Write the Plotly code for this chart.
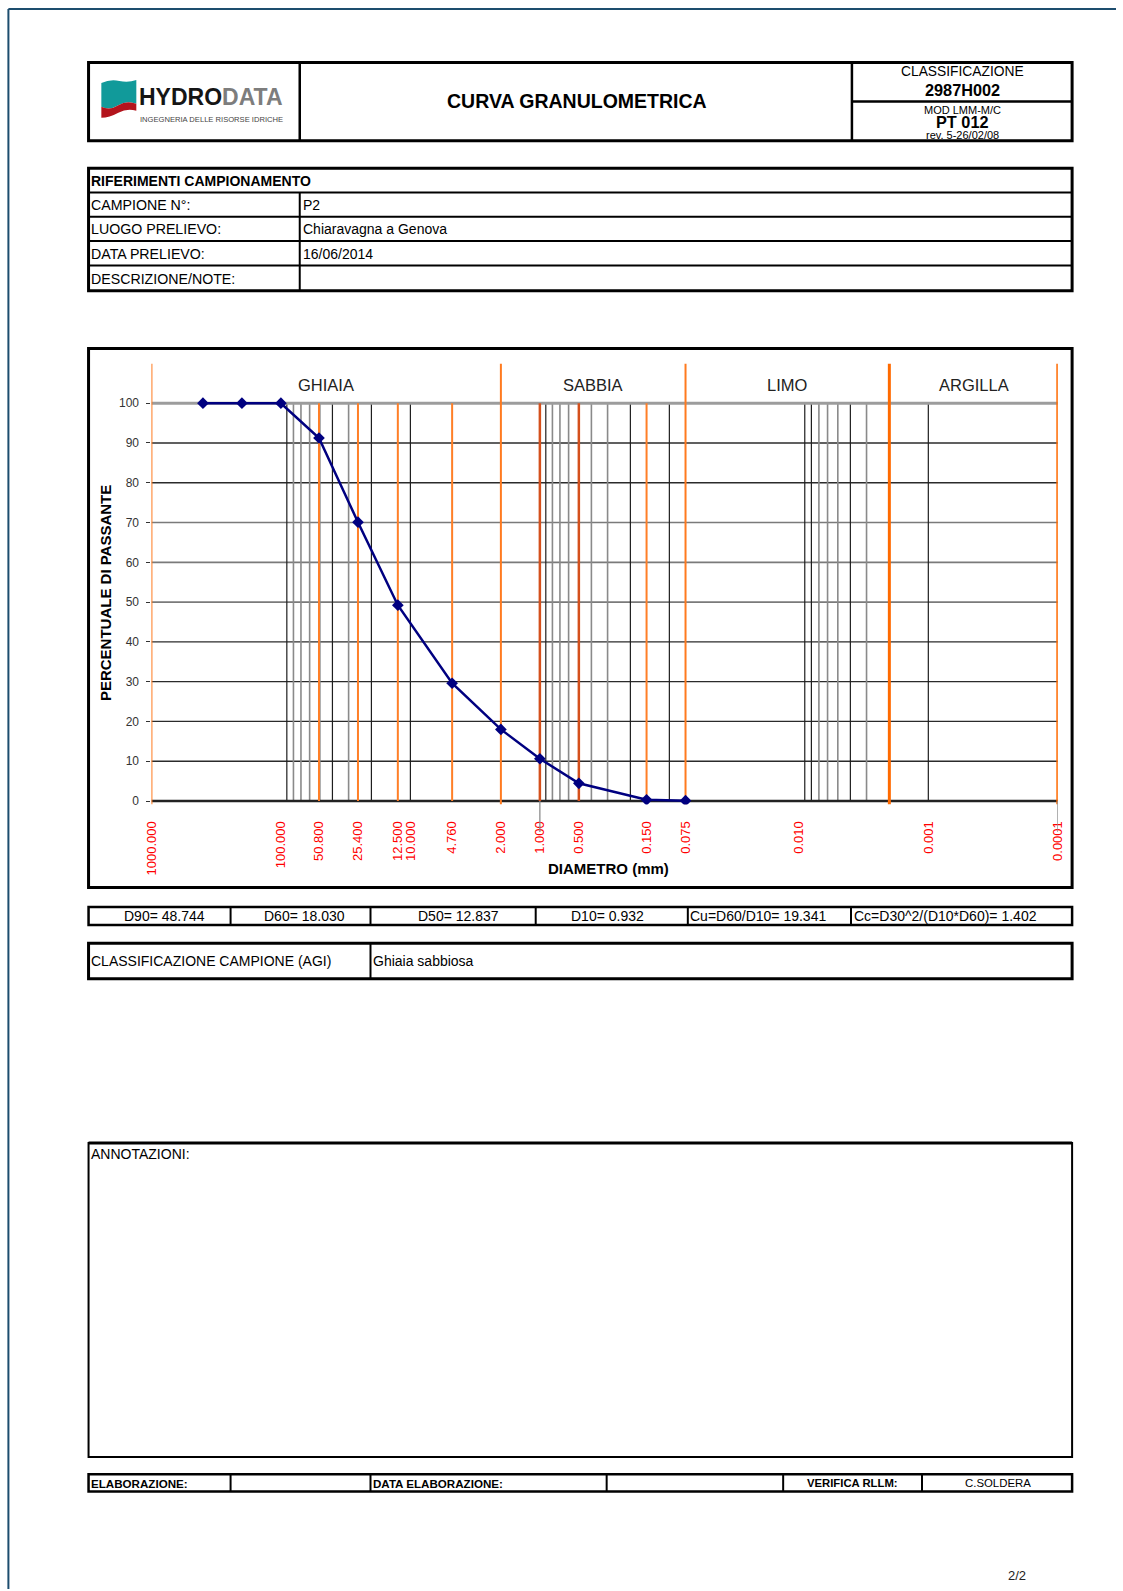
import math
import plotly.graph_objects as go

W, H = 1123, 1591
FONT = "Liberation Sans, Arial, Helvetica, sans-serif"

# ---- document header -------------------------------------------------
header_title = "CURVA GRANULOMETRICA"
doc_class_label = "CLASSIFICAZIONE"
doc_class = "2987H002"
doc_mod = "MOD LMM-M/C"
doc_code = "PT 012"
doc_rev = "rev. 5-26/02/08"
logo_main, logo_tail = "HYDRO", "DATA"
logo_sub = "INGEGNERIA DELLE RISORSE IDRICHE"

# ---- sample references -----------------------------------------------
info_title = "RIFERIMENTI CAMPIONAMENTO"
info_labels = ["CAMPIONE N°:", "LUOGO PRELIEVO:", "DATA PRELIEVO:", "DESCRIZIONE/NOTE:"]
info_values = ["P2", "Chiaravagna a Genova", "16/06/2014", ""]

# ---- sieve analysis --------------------------------------------------
diam_mm = [400, 200, 100, 50.8, 25.4, 12.5, 4.76, 2.0, 1.0, 0.5, 0.15, 0.075]
passing_pct = [100, 100, 100, 91.26, 70.09, 49.22, 29.60, 18.0, 10.63, 4.45, 0.3, 0.1]

x_tick_vals = [1000, 100, 50.8, 25.4, 12.5, 10, 4.76, 2.0, 1.0, 0.5, 0.15, 0.075, 0.01, 0.001, 0.0001]
x_tick_text = ["1000.000", "100.000", "50.800", "25.400", "12.500", "10.000", "4.760", "2.000",
               "1.000", "0.500", "0.150", "0.075", "0.010", "0.001", "0.0001"]
y_tick_vals = [0, 10, 20, 30, 40, 50, 60, 70, 80, 90, 100]

zone_bounds = [1000, 2.0, 0.075, 0.002, 0.0001]
zone_names = ["GHIAIA", "SABBIA", "LIMO", "ARGILLA"]
sieve_lines = [50.8, 25.4, 12.5, 4.76, 0.15]
sieve_lines_dark = [1.0, 0.5]
grid_black = [90, 40, 20, 10, 0.9, 0.2, 0.1, 0.009, 0.008, 0.004, 0.001]
grid_gray = [80, 70, 60, 50, 30, 0.8, 0.7, 0.6, 0.4, 0.3, 0.007, 0.006, 0.005, 0.003]
pct_black = [10, 20, 30, 40, 80, 90]
pct_gray = [50, 60, 70]
drop_lines = [1.0, 0.0001]

# ---- characteristic diameters ----------------------------------------
d90, d60, d50, d10, cu, cc = 48.744, 18.030, 12.837, 0.932, 19.341, 1.402
classification_label = "CLASSIFICAZIONE CAMPIONE (AGI)"
classification_value = "Ghiaia sabbiosa"
notes_label = "ANNOTAZIONI:"
footer_cells = ["ELABORAZIONE:", "", "DATA ELABORAZIONE:", "", "VERIFICA RLLM:", "C.SOLDERA"]
page_no = "2/2"

# ---- page geometry: sheet pixels -> paper fractions -------------------
SHEET_X0, SHEET_SX, SHEET_SY = 6.6, 0.9872, 0.9987


def X(px):
    return ((px - SHEET_X0) / SHEET_SX) / W


def Y(py):
    return 1 - (py / SHEET_SY) / H


PLOT_L, PLOT_R = 150.1, 1057.0
Y0_PX, PX_PER_PCT = 802, 3.983
Y_MIN, Y_MAX = -0.9, 110
y_bot = Y0_PX - Y_MIN * PX_PER_PCT
y_top = Y0_PX - Y_MAX * PX_PER_PCT
X_LO, X_HI = 1000, 0.0001

fig = go.Figure()


def hlines(vals):
    xs, ys = [], []
    for v in vals:
        xs += [X_LO, X_HI, None]
        ys += [v, v, None]
    return xs, ys


def vlines(vals, y0, y1):
    xs, ys = [], []
    for v in vals:
        xs += [v, v, None]
        ys += [y0, y1, None]
    return xs, ys


def add_lines(xs, ys, color, width):
    fig.add_trace(go.Scatter(x=xs, y=ys, mode="lines", line=dict(color=color, width=width),
                             hoverinfo="skip", showlegend=False))


# horizontal grid
add_lines(*hlines(pct_black), "#2b2b2b", 1.3)
add_lines(*hlines(pct_gray), "#7a7a7a", 1.6)
# vertical log grid (0-100 %)
add_lines(*vlines(grid_black, 0, 100), "#1e1e1e", 1.2)
add_lines(*vlines(grid_gray, 0, 100), "#8a8a8a", 1.6)
add_lines(*hlines([100]), "#9c9c9c", 3)
add_lines(*hlines([0]), "#222222", 2.5)
# sieve openings
add_lines(*vlines(sieve_lines, 0, 100), "#ff7f27", 2)
add_lines(*vlines(sieve_lines_dark, 0, 100), "#d4501c", 2.5)
# soil class boundaries
add_lines(*vlines(zone_bounds[:3], Y_MIN, Y_MAX), "#ff7a1f", 2)
add_lines(*vlines(zone_bounds[3:], Y_MIN, Y_MAX), "#ff6a00", 3)

# grading curve
fig.add_trace(go.Scatter(
    x=diam_mm, y=passing_pct, mode="lines+markers",
    line=dict(color="#000080", width=2.5),
    marker=dict(symbol="diamond", size=9, color="#000080"),
    hoverinfo="skip", showlegend=False))

fig.update_xaxes(
    type="log", range=[math.log10(X_LO), math.log10(X_HI)],
    domain=[X(PLOT_L), X(PLOT_R)],
    tickvals=x_tick_vals, ticktext=x_tick_text, tickangle=-90,
    tickfont=dict(family=FONT, size=13, color="#ff0000"),
    ticks="", ticklabelstandoff=13,
    showgrid=False, zeroline=False, showline=False, fixedrange=True)
fig.update_yaxes(
    range=[Y_MIN, Y_MAX], domain=[Y(y_bot), Y(y_top)],
    tickvals=y_tick_vals, tickfont=dict(family=FONT, size=12, color="#333333"),
    ticks="outside", ticklen=4, tickcolor="#333333", tickwidth=1, ticklabelstandoff=5,
    showgrid=False, zeroline=False, showline=False, fixedrange=True)

shapes = []


def rect(x0, y0, x1, y1, w=3, color="#000000"):
    shapes.append(dict(type="rect", xref="paper", yref="paper", x0=X(x0), x1=X(x1),
                       y0=Y(y0), y1=Y(y1), line=dict(color=color, width=w)))


def line(x0, y0, x1, y1, w=2, color="#000000"):
    shapes.append(dict(type="line", xref="paper", yref="paper", x0=X(x0), x1=X(x1),
                       y0=Y(y0), y1=Y(y1), line=dict(color=color, width=w)))


annotations = []


def txt(s, x, y, size=14, bold=False, xanchor="left", color="#000000", angle=0):
    annotations.append(dict(
        text=f"<b>{s}</b>" if bold else s, xref="paper", yref="paper", x=X(x), y=Y(y),
        xanchor=xanchor, yanchor="middle", showarrow=False, textangle=angle,
        font=dict(family=FONT, size=size, color=color)))


# page frame
line(7, 9, 1123 * SHEET_SX + SHEET_X0, 9, 2, "#1d4d6e")
line(7, 9, 7, H, 2, "#1d4d6e")

# header block
rect(87.2, 62.5, 1071.3, 141, 3)
line(298.5, 62.5, 298.5, 141, 2.5)
line(851, 62.5, 851, 141, 2.5)
line(851, 101.5, 1071.3, 101.5, 2.5)
txt(header_title, 575.5, 101.5, 19.5, bold=True, xanchor="center")
txt(doc_class_label, 961.5, 72, 13.8, xanchor="center")
txt(doc_class, 961.5, 90.5, 16.3, bold=True, xanchor="center")
txt(doc_mod, 961.5, 110, 11, xanchor="center")
txt(doc_code, 961.5, 122, 16.3, bold=True, xanchor="center")
txt(doc_rev, 961.5, 135.5, 11, xanchor="center")

# logo
shapes.append(dict(type="path", xref="paper", yref="paper", line=dict(width=0), fillcolor="#119a9a",
                   path="M {} {} Q {} {} {} {} T {} {} L {} {} Q {} {} {} {} T {} {} Z".format(
                       X(100), Y(83), X(109), Y(79), X(118), Y(81), X(135), Y(80),
                       X(135), Y(104), X(126), Y(100), X(117), Y(105.5), X(100), Y(107))))
shapes.append(dict(type="path", xref="paper", yref="paper", line=dict(width=0), fillcolor="#b3141c",
                   path="M {} {} Q {} {} {} {} T {} {} L {} {} Q {} {} {} {} T {} {} Z".format(
                       X(100), Y(107), X(108.5), Y(111), X(117), Y(105.5), X(135), Y(104),
                       X(135), Y(111), X(126), Y(108), X(117), Y(113), X(100), Y(118))))
annotations.append(dict(
    text=f"<b>{logo_main}</b><span style='color:#7d7d7d'><b>{logo_tail}</b></span>",
    xref="paper", yref="paper", x=X(135.5), y=Y(97), xanchor="left", yanchor="middle",
    showarrow=False, font=dict(family=FONT, size=23, color="#151515")))
txt(logo_sub, 136.5, 119.5, 7.6, color="#444444")

# sample reference table
row_y = [168.4, 192.7, 217.1, 241.4, 265.8, 291]
rect(87.2, row_y[0], 1071.3, row_y[-1], 3)
for yy in row_y[1:-1]:
    line(87.2, yy, 1071.3, yy, 2)
line(298.5, row_y[1], 298.5, row_y[-1], 2)
txt(info_title, 88, (row_y[0] + row_y[1]) / 2 + 0.5, 14, bold=True)
for i, (lab, val) in enumerate(zip(info_labels, info_values)):
    yc = (row_y[i + 1] + row_y[i + 2]) / 2 + 0.5
    txt(lab, 88, yc, 14.2)
    if val:
        txt(val, 300, yc, 14)

# chart frame
rect(87.2, 349, 1071.3, 888.7, 3)
for v in drop_lines:
    shapes.append(dict(type="line", xref="x", yref="paper", x0=v, x1=v, y0=Y(Y0_PX), y1=Y(833),
                       line=dict(color="#8c8c8c", width=1.3)))
for name, hi, lo in zip(zone_names, zone_bounds[:-1], zone_bounds[1:]):
    annotations.append(dict(
        text=name, xref="x", yref="y", x=(math.log10(hi) + math.log10(lo)) / 2, y=104.5,
        xanchor="center", yanchor="middle", showarrow=False,
        font=dict(family=FONT, size=16.5, color="#222222")))
txt("PERCENTUALE DI PASSANTE", 103.5, 594, 15, bold=True, xanchor="center", angle=-90)
txt("DIAMETRO (mm)", 607, 870, 15, bold=True, xanchor="center")

# characteristic diameters row
sum_x = [87.2, 229.3, 369.3, 534.6, 686.8, 850.1, 1071.3]
sum_centers = [163, 303, 457.5, 606]
sum_text = [f"D90= {d90:.3f}", f"D60= {d60:.3f}", f"D50= {d50:.3f}", f"D10= {d10:.3f}",
            f"Cu=D60/D10= {cu:.3f}", f"Cc=D30^2/(D10*D60)= {cc:.3f}"]
rect(87.2, 908, 1071.3, 926.2, 2.5)
for xx in sum_x[1:-1]:
    line(xx, 908, xx, 926.2, 2)
for i, s in enumerate(sum_text):
    if i < 4:
        txt(s, sum_centers[i], 917.5, 14, xanchor="center")
    else:
        txt(s, sum_x[i] + 0.5, 917.5, 14)

# classification row
rect(87.2, 944.4, 1071.3, 980, 3)
line(369.3, 944.4, 369.3, 980, 2)
txt(classification_label, 88, 962.5, 14)
txt(classification_value, 370, 962.5, 14)

# notes box
rect(87.2, 1144.3, 1071.3, 1458.8, 2)
line(87.2, 1144.3, 1071.3, 1144.3, 3)
txt(notes_label, 88, 1155.5, 14)

# sign-off row
foot_x = [87.2, 229.3, 369.3, 605.6, 782.2, 921.1, 1071.3]
rect(87.2, 1476, 1071.3, 1493.3, 2.5)
for xx in foot_x[1:-1]:
    line(xx, 1476, xx, 1493.3, 2)
txt(footer_cells[0], 88, 1485, 11.6, bold=True)
txt(footer_cells[2], 369.5, 1485, 11.6, bold=True)
txt(footer_cells[4], 852, 1485, 11.3, bold=True, xanchor="center")
txt(footer_cells[5], 997, 1485, 11.4, xanchor="center")

txt(page_no, 1016, 1577, 13, xanchor="center", color="#222222")

fig.update_layout(
    width=W, height=H, margin=dict(l=0, r=0, t=0, b=0),
    paper_bgcolor="white", plot_bgcolor="white", showlegend=False,
    shapes=shapes, annotations=annotations, font=dict(family=FONT))

fig.write_html("out.html")
